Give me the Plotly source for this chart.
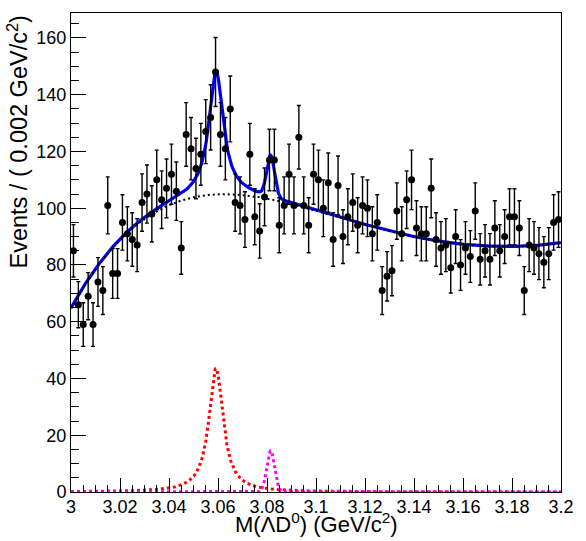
import numpy as np
import plotly.graph_objects as go

# Lambda D0 invariant-mass histogram: 100 bins of 0.002 GeV/c^2 from 3.00 to 3.20
bin_low = 3.0
bin_width = 0.002
counts = [85, 66, 59, 69, 59, 74, 71, 101, 77, 77,
          95, 91, 89, 87, 102, 105, 98, 110, 103, 107,
          112, 106, 86, 126, 121, 114, 119, 127, 132, 148,
          126, 121, 135, 102, 101, 96, 119, 97, 92, 104,
          117, 117, 94, 101, 112, 101, 125, 101, 94, 112,
          110, 100, 109, 89, 108, 90, 97, 102, 94, 101,
          100, 91, 95, 71, 76, 78, 99, 91, 103, 110,
          93, 91, 91, 107, 89, 86, 87, 79, 90, 80,
          86, 83, 99, 82, 85, 82, 93, 85, 90, 97,
          97, 93, 71, 87, 86, 84, 81, 84, 95, 96]

# Background component of the fit, sampled every 10 MeV
bkg_mass = [3.00, 3.01, 3.02, 3.03, 3.04, 3.05, 3.06, 3.07, 3.08, 3.09, 3.10,
            3.11, 3.12, 3.13, 3.14, 3.15, 3.16, 3.17, 3.18, 3.19, 3.20]
bkg_level = [65.0, 78.0, 88.5, 97.0, 101.5, 103.5, 104.5, 104.5, 103.5, 101.5, 99.5,
             96.5, 94.0, 92.0, 90.0, 88.3, 87.2, 86.6, 86.5, 87.0, 87.8]

# Signal components: Breit-Wigner at 3.059 and narrow Gaussian at 3.0815
peak1_mass = 3.0592
peak1_width = 0.0070
peak1_height = 43.6
peak2_mass = 3.0815
peak2_sigma = 0.0016
peak2_height = 14.5

# Axis ticks
x_tick_vals = [3.00, 3.02, 3.04, 3.06, 3.08, 3.10, 3.12, 3.14, 3.16, 3.18, 3.20]
x_tick_text = ["3", "3.02", "3.04", "3.06", "3.08", "3.1", "3.12", "3.14", "3.16", "3.18", "3.2"]
y_tick_vals = [0, 20, 40, 60, 80, 100, 120, 140, 160]
y_tick_text = ["0", "20", "40", "60", "80", "100", "120", "140", "160"]

counts_arr = np.array(counts, dtype=float)
centers = bin_low + (np.arange(len(counts)) + 0.5) * bin_width
errors = np.sqrt(counts_arr)

# Evaluate the fit model on a fine mass grid
m = np.linspace(3.0, 3.2, 1001)
u_knots = (np.array(bkg_mass) - 3.1) / 0.1
coef = np.polyfit(u_knots, np.array(bkg_level), 6)
bkg = np.polyval(coef, (m - 3.1) / 0.1)
sig1 = peak1_height / (1.0 + (2.0 * (m - peak1_mass) / peak1_width) ** 2)
sig2 = peak2_height * np.exp(-0.5 * ((m - peak2_mass) / peak2_sigma) ** 2)
total = bkg + sig1 + sig2

FONT = "Liberation Sans, Arial, sans-serif"

fig = go.Figure()
fig.add_trace(go.Scatter(x=m, y=total, mode="lines",
                         line=dict(color="#0000ff", width=3.2), hoverinfo="skip"))
fig.add_trace(go.Scatter(x=m, y=bkg, mode="lines",
                         line=dict(color="black", width=2, dash="2px,3px"), hoverinfo="skip"))
fig.add_trace(go.Scatter(x=m, y=sig1, mode="lines",
                         line=dict(color="#ff0000", width=3, dash="dot"), hoverinfo="skip"))
fig.add_trace(go.Scatter(x=m, y=sig2, mode="lines",
                         line=dict(color="#ff00ff", width=3, dash="dot"), hoverinfo="skip"))
fig.add_trace(go.Scatter(x=centers, y=counts_arr, mode="markers",
                         marker=dict(color="black", size=7),
                         error_y=dict(type="data", array=errors, color="black",
                                      thickness=1.4, width=2)))

axis_common = dict(showline=True, linecolor="black", linewidth=1, mirror=True,
                   ticks="inside", tickcolor="black", tickwidth=1,
                   showgrid=False, zeroline=False, ticklabeloverflow="allow",
                   tickfont=dict(family=FONT, size=18, color="black"))

fig.update_layout(
    width=586, height=541, autosize=False,
    margin=dict(l=71, r=12, t=12, b=49),
    paper_bgcolor="white", plot_bgcolor="white",
    showlegend=False,
    font=dict(family=FONT, size=18, color="black"),
    xaxis=dict(range=[3.0, 3.2], tickmode="array", tickvals=x_tick_vals, ticktext=x_tick_text,
               ticklen=14, ticklabelstandoff=-2,
               minor=dict(ticks="inside", ticklen=7, dtick=0.005, tick0=3.0,
                          tickcolor="black", showgrid=False),
               **axis_common),
    yaxis=dict(range=[0, 168.8], tickmode="array", tickvals=y_tick_vals, ticktext=y_tick_text,
               ticklen=15, minor=dict(ticks="inside", ticklen=8, dtick=5, tick0=0,
                                      tickcolor="black", showgrid=False),
               **axis_common),
    annotations=[
        dict(text="M(\u039bD<sup>0</sup>) (GeV/c<sup>2</sup>)", xref="paper", yref="paper",
             x=0.5, y=0, xanchor="center", yanchor="top", yshift=-15, showarrow=False,
             font=dict(family=FONT, size=22, color="black")),
        dict(text="Events / ( 0.002 GeV/c<sup>2</sup>)", xref="paper", yref="paper",
             x=0, y=1, xanchor="right", yanchor="top", xshift=-37, yshift=-1, textangle=-90,
             showarrow=False,
             font=dict(family=FONT, size=23.5, color="black")),
    ],
)

fig.write_html("out.html")
